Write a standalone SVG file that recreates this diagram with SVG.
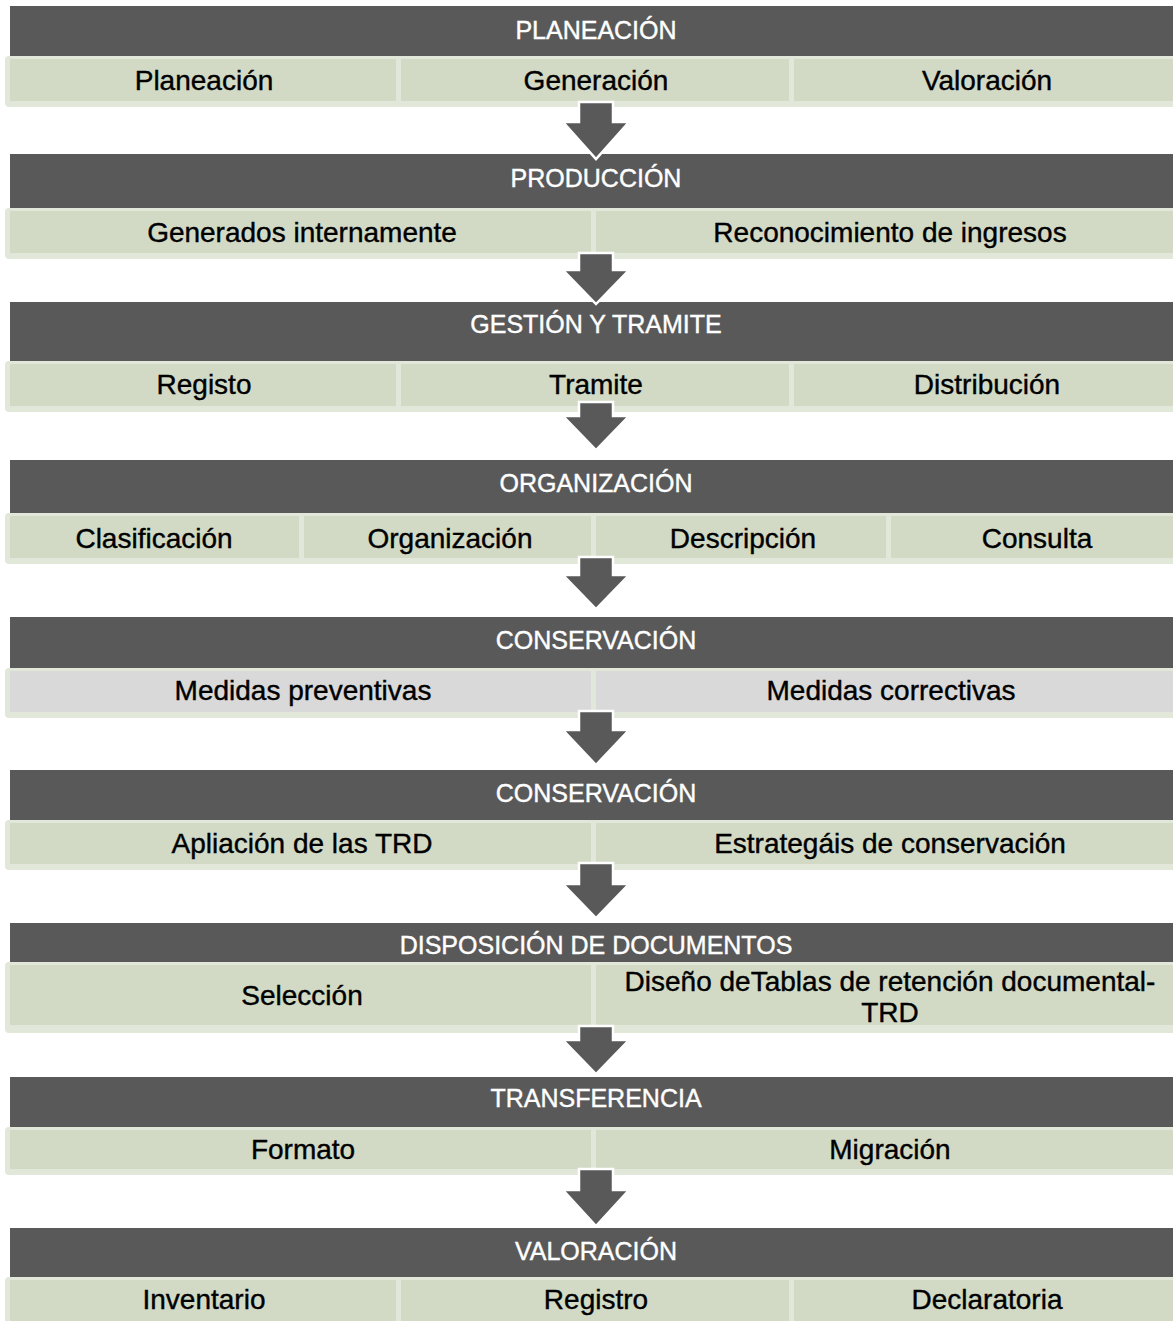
<svg xmlns="http://www.w3.org/2000/svg" width="1173" height="1321" viewBox="0 0 1173 1321">
<style>
.hd{fill:#595959}
.ho{fill:#e1e8d9}
.ci{fill:#d2dac6}
.cg{fill:#d9d9d9}
.ht{font-family:"Liberation Sans",Arial,sans-serif;font-size:25px;fill:#ffffff;text-anchor:middle;stroke:#ffffff;stroke-width:0.4}
.st{font-family:"Liberation Sans",Arial,sans-serif;font-size:28px;fill:#000000;text-anchor:middle;stroke:#000;stroke-width:0.4}
.ar{fill:#595959;stroke:#ffffff;stroke-width:2.5;stroke-linejoin:miter}
</style>
<rect width="1173" height="1321" fill="#ffffff"/>

<g id="s1">
<rect class="hd" x="10" y="6" width="1172" height="50"/>
<text class="ht" x="596" y="39">PLANEACIÓN</text>
<rect class="ho" x="5" y="56" width="1180" height="51" rx="4"/>
<rect class="ci" x="10" y="59" width="386" height="42"/>
<rect class="ci" x="401" y="59" width="388" height="42"/>
<rect class="ci" x="794" y="59" width="388" height="42"/>
<text class="st" x="204" y="90">Planeación</text>
<text class="st" x="596" y="90">Generación</text>
<text class="st" x="987" y="90">Valoración</text>
</g>

<g id="s2">
<rect class="hd" x="10" y="154" width="1172" height="54"/>
<text class="ht" x="596" y="187">PRODUCCIÓN</text>
<rect class="ho" x="5" y="208" width="1180" height="51" rx="4"/>
<rect class="ci" x="10" y="211" width="581" height="42"/>
<rect class="ci" x="596" y="211" width="586" height="42"/>
<text class="st" x="302" y="242">Generados internamente</text>
<text class="st" x="890" y="242">Reconocimiento de ingresos</text>
</g>

<g id="s3">
<rect class="hd" x="10" y="302" width="1172" height="59"/>
<text class="ht" x="596" y="333">GESTIÓN Y TRAMITE</text>
<rect class="ho" x="5" y="361" width="1180" height="51" rx="4"/>
<rect class="ci" x="10" y="364" width="386" height="42"/>
<rect class="ci" x="401" y="364" width="388" height="42"/>
<rect class="ci" x="794" y="364" width="388" height="42"/>
<text class="st" x="204" y="394">Registo</text>
<text class="st" x="596" y="394">Tramite</text>
<text class="st" x="987" y="394">Distribución</text>
</g>

<g id="s4">
<rect class="hd" x="10" y="460" width="1172" height="53"/>
<text class="ht" x="596" y="492">ORGANIZACIÓN</text>
<rect class="ho" x="5" y="513" width="1180" height="51" rx="4"/>
<rect class="ci" x="10" y="516" width="289" height="42"/>
<rect class="ci" x="304" y="516" width="287" height="42"/>
<rect class="ci" x="596" y="516" width="290" height="42"/>
<rect class="ci" x="891" y="516" width="291" height="42"/>
<text class="st" x="154" y="548">Clasificación</text>
<text class="st" x="450" y="548">Organización</text>
<text class="st" x="743" y="548">Descripción</text>
<text class="st" x="1037" y="548">Consulta</text>
</g>

<g id="s5">
<rect class="hd" x="10" y="617" width="1172" height="51"/>
<text class="ht" x="596" y="649">CONSERVACIÓN</text>
<rect class="ho" x="5" y="668" width="1180" height="50" rx="4"/>
<rect class="cg" x="10" y="671" width="581" height="41"/>
<rect class="cg" x="596" y="671" width="586" height="41"/>
<text class="st" x="303" y="700">Medidas preventivas</text>
<text class="st" x="891" y="700">Medidas correctivas</text>
</g>

<g id="s6">
<rect class="hd" x="10" y="770" width="1172" height="50"/>
<text class="ht" x="596" y="802">CONSERVACIÓN</text>
<rect class="ho" x="5" y="820" width="1180" height="50" rx="4"/>
<rect class="ci" x="10" y="823" width="581" height="41"/>
<rect class="ci" x="596" y="823" width="586" height="41"/>
<text class="st" x="302" y="853">Apliación de las TRD</text>
<text class="st" x="890" y="853">Estrategáis de conservación</text>
</g>

<g id="s7">
<rect class="hd" x="10" y="923" width="1172" height="39"/>
<text class="ht" x="596" y="954">DISPOSICIÓN DE DOCUMENTOS</text>
<rect class="ho" x="5" y="962" width="1180" height="71" rx="4"/>
<rect class="ci" x="10" y="965" width="581" height="60"/>
<rect class="ci" x="596" y="965" width="586" height="60"/>
<text class="st" x="302" y="1005">Selección</text>
<text class="st" x="890" y="991">Diseño deTablas de retención documental-</text>
<text class="st" x="890" y="1022">TRD</text>
</g>

<g id="s8">
<rect class="hd" x="10" y="1077" width="1172" height="50"/>
<text class="ht" x="596" y="1107">TRANSFERENCIA</text>
<rect class="ho" x="5" y="1127" width="1180" height="48" rx="4"/>
<rect class="ci" x="10" y="1130" width="581" height="39"/>
<rect class="ci" x="596" y="1130" width="586" height="39"/>
<text class="st" x="303" y="1159">Formato</text>
<text class="st" x="890" y="1159">Migración</text>
</g>

<g id="s9">
<rect class="hd" x="10" y="1228" width="1172" height="49"/>
<text class="ht" x="596" y="1260">VALORACIÓN</text>
<rect class="ho" x="5" y="1277" width="1180" height="55" rx="4"/>
<rect class="ci" x="10" y="1280" width="386" height="45"/>
<rect class="ci" x="401" y="1280" width="388" height="45"/>
<rect class="ci" x="794" y="1280" width="388" height="45"/>
<text class="st" x="204" y="1309">Inventario</text>
<text class="st" x="596" y="1309">Registro</text>
<text class="st" x="987" y="1309">Declaratoria</text>
</g>

<g id="connectors">
<polygon class="ar" points="579,102 613,102 613,122 629,122 596,159 563,122 579,122"/>
<polygon class="ar" points="579,253 613,253 613,270 629,270 596,304 563,270 579,270"/>
<polygon class="ar" points="579,402 613,402 613,416 629,416 596,450 563,416 579,416"/>
<polygon class="ar" points="579,557 613,557 613,575 629,575 596,609 563,575 579,575"/>
<polygon class="ar" points="579,711 613,711 613,730 629,730 596,765 563,730 579,730"/>
<polygon class="ar" points="579,863 613,863 613,884 629,884 596,918 563,884 579,884"/>
<polygon class="ar" points="579,1026 613,1026 613,1040 629,1040 596,1074 563,1040 579,1040"/>
<polygon class="ar" points="579,1169 613,1169 613,1190 629,1190 596,1226 563,1190 579,1190"/>
</g>
</svg>
